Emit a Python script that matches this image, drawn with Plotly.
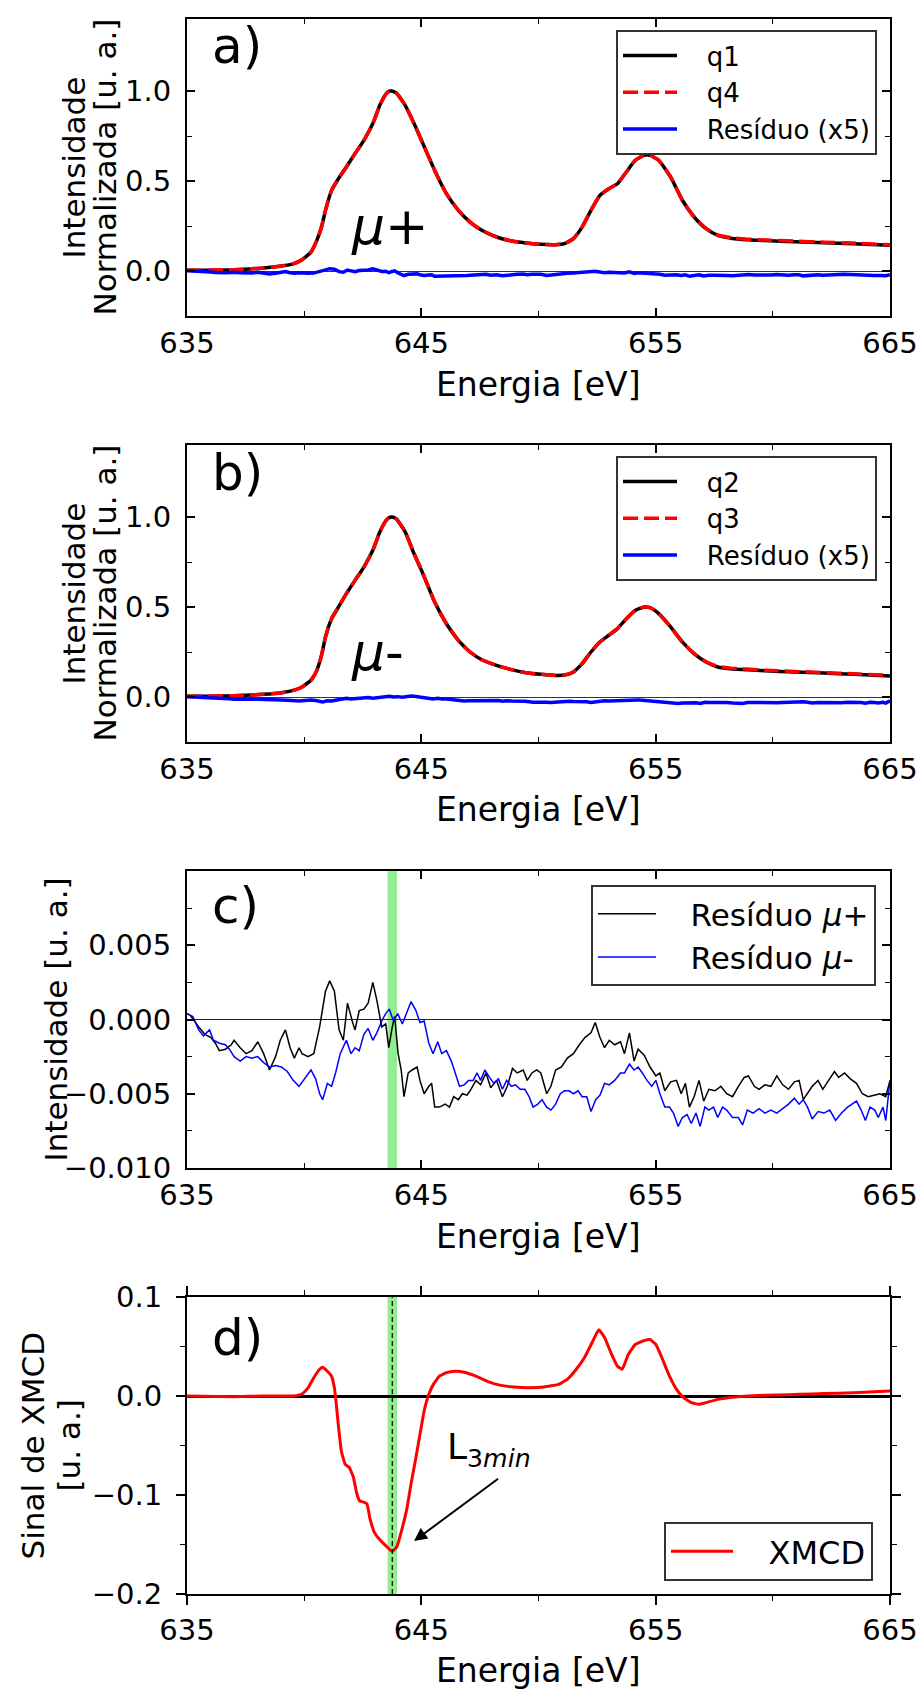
import plotly.graph_objects as go

# ------------------------------------------------------------------ data
# panels a) and b): normalised XAS spectra
energia_ab = [635.0, 637.01, 638.27, 639.03, 639.53, 639.91, 640.29, 640.54, 640.74, 640.91,
              641.17, 641.42, 641.80, 642.17, 642.55, 642.93, 643.26, 643.56, 643.73, 643.93,
              644.31, 644.69, 645.07, 645.57, 646.07, 646.58, 647.08, 647.58, 648.21, 648.84,
              649.47, 650.10, 650.73, 651.11, 651.49, 651.86, 652.24, 652.62, 653.0, 653.37,
              653.75, 654.13, 654.51, 654.76, 655.13, 655.64, 656.14, 656.64, 657.15, 657.65,
              658.28, 658.91, 659.66, 660.92, 662.18, 663.44, 665.0]
q1 = [0.004, 0.007, 0.017, 0.028, 0.04, 0.063, 0.105, 0.17, 0.244, 0.337,
      0.448, 0.504, 0.578, 0.652, 0.726, 0.819, 0.93, 0.994, 1.0, 0.989,
      0.92, 0.819, 0.707, 0.559, 0.43, 0.337, 0.272, 0.226, 0.189, 0.167,
      0.156, 0.148, 0.146, 0.152, 0.18, 0.244, 0.337, 0.42, 0.457, 0.485,
      0.55, 0.615, 0.643, 0.643, 0.615, 0.522, 0.393, 0.30, 0.235, 0.198,
      0.181, 0.174, 0.169, 0.163, 0.157, 0.152, 0.143]
q4 = [0.004, 0.007, 0.017, 0.028, 0.04, 0.063, 0.105, 0.17, 0.244, 0.337,
      0.448, 0.504, 0.578, 0.652, 0.726, 0.819, 0.93, 0.994, 1.0, 0.989,
      0.92, 0.819, 0.707, 0.559, 0.43, 0.337, 0.272, 0.226, 0.189, 0.167,
      0.156, 0.148, 0.146, 0.152, 0.18, 0.244, 0.337, 0.42, 0.457, 0.485,
      0.55, 0.615, 0.643, 0.643, 0.615, 0.522, 0.393, 0.30, 0.237, 0.200,
      0.184, 0.177, 0.172, 0.166, 0.160, 0.155, 0.146]
q2 = [0.004, 0.007, 0.015, 0.024, 0.037, 0.056, 0.093, 0.148, 0.231, 0.333,
      0.435, 0.49, 0.574, 0.648, 0.722, 0.815, 0.926, 0.99, 1.0, 0.99,
      0.917, 0.796, 0.685, 0.528, 0.407, 0.315, 0.25, 0.207, 0.176, 0.152,
      0.135, 0.126, 0.12, 0.122, 0.139, 0.185, 0.25, 0.306, 0.343, 0.38,
      0.435, 0.481, 0.5, 0.496, 0.463, 0.389, 0.306, 0.241, 0.194, 0.167,
      0.156, 0.152, 0.146, 0.139, 0.133, 0.126, 0.117]
q3 = [0.004, 0.007, 0.015, 0.024, 0.037, 0.056, 0.093, 0.148, 0.231, 0.333,
      0.435, 0.49, 0.574, 0.648, 0.722, 0.815, 0.926, 0.99, 1.0, 0.99,
      0.917, 0.796, 0.685, 0.528, 0.407, 0.315, 0.25, 0.207, 0.176, 0.152,
      0.135, 0.126, 0.12, 0.122, 0.139, 0.185, 0.25, 0.306, 0.343, 0.38,
      0.435, 0.481, 0.5, 0.496, 0.463, 0.389, 0.306, 0.241, 0.196, 0.170,
      0.159, 0.155, 0.149, 0.142, 0.136, 0.129, 0.120]

# panel c): residuals
energia_res_mais = [635.0, 635.13, 635.50, 635.76, 636.01, 636.21, 636.38, 636.64, 636.89, 637.01,
                    637.27, 637.52, 637.77, 638.02, 638.27, 638.52, 638.78, 638.98, 639.20, 639.40,
                    639.58, 639.78, 639.91, 640.16, 640.41, 640.66, 640.91, 641.09, 641.29, 641.49,
                    641.67, 641.85, 642.05, 642.17, 642.35, 642.55, 642.73, 642.93, 643.10, 643.31,
                    643.48, 643.61, 643.76, 643.86, 644.01, 644.14, 644.26, 644.44, 644.61, 644.82,
                    644.94, 645.12, 645.32, 645.44, 645.57, 645.77, 646.02, 646.20, 646.38, 646.58,
                    646.75, 646.95, 647.08, 647.33, 647.53, 647.76, 647.96, 648.21, 648.46, 648.67,
                    648.89, 649.09, 649.35, 649.52, 649.72, 649.92, 650.10, 650.35, 650.53, 650.73,
                    650.98, 651.23, 651.49, 651.74, 651.99, 652.24, 652.42, 652.62, 652.82, 653.02,
                    653.25, 653.50, 653.67, 653.88, 654.08, 654.25, 654.51, 654.76, 655.01, 655.18,
                    655.39, 655.64, 655.89, 656.09, 656.27, 656.44, 656.64, 656.85, 657.05, 657.27,
                    657.53, 657.78, 658.03, 658.28, 658.53, 658.78, 658.96, 659.21, 659.41, 659.66,
                    659.92, 660.17, 660.42, 660.67, 660.92, 661.12, 661.30, 661.48, 661.68, 661.93,
                    662.13, 662.38, 662.63, 662.81, 663.06, 663.31, 663.57, 663.82, 664.07, 664.32,
                    664.57, 664.82, 665.0]
residuo_mais = [0.0004, 0.0003, -0.0005, -0.0010, -0.0012, -0.0016, -0.0021, -0.0020, -0.0017, -0.0014,
                -0.0019, -0.0023, -0.0021, -0.0015, -0.0023, -0.0034, -0.0025, -0.0014, -0.0007, -0.0019,
                -0.0026, -0.0019, -0.0023, -0.0025, -0.0023, -0.0005, 0.0019, 0.0026, 0.0019, -0.0007,
                -0.0014, 0.0011, -0.0001, -0.0007, 0.0006, 0.0007, 0.0011, 0.0025, 0.0013, -0.0005,
                -0.0003, -0.0019, -0.0005, 0.0002, -0.0023, -0.0034, -0.0052, -0.0036, -0.0034, -0.0032,
                -0.0041, -0.0050, -0.0045, -0.0043, -0.0059, -0.0059, -0.0057, -0.0059, -0.0052, -0.0054,
                -0.0050, -0.0051, -0.0048, -0.0041, -0.0044, -0.0036, -0.0046, -0.0041, -0.0052, -0.0045,
                -0.0033, -0.0036, -0.0034, -0.0041, -0.0036, -0.0034, -0.0036, -0.0050, -0.0045, -0.0034,
                -0.0032, -0.0026, -0.0023, -0.0017, -0.0012, -0.0009, -0.0002, -0.0012, -0.0019, -0.0014,
                -0.0017, -0.0015, -0.0023, -0.0009, -0.0028, -0.0020, -0.0024, -0.0032, -0.0038, -0.0036,
                -0.0048, -0.0042, -0.0041, -0.0050, -0.0043, -0.0059, -0.0052, -0.0041, -0.0055, -0.0047,
                -0.0048, -0.0045, -0.0050, -0.0052, -0.0045, -0.0039, -0.0038, -0.0045, -0.0047, -0.0044,
                -0.0045, -0.0038, -0.0044, -0.0047, -0.0042, -0.0041, -0.0054, -0.0050, -0.0045, -0.0041,
                -0.0047, -0.0041, -0.0035, -0.0039, -0.0036, -0.0040, -0.0043, -0.0050, -0.0052, -0.0051,
                -0.0050, -0.0052, -0.0041]
energia_res_menos = [635.0, 635.25, 635.50, 635.70, 635.96, 636.13, 636.38, 636.64, 636.81, 637.01,
                     637.27, 637.52, 637.77, 638.02, 638.27, 638.52, 638.78, 639.03, 639.28, 639.53,
                     639.78, 640.03, 640.29, 640.49, 640.66, 640.79, 640.99, 641.17, 641.34, 641.54,
                     641.80, 642.00, 642.17, 642.35, 642.55, 642.73, 642.93, 643.10, 643.31, 643.48,
                     643.63, 643.81, 643.99, 644.19, 644.36, 644.56, 644.77, 644.94, 645.12, 645.32,
                     645.50, 645.70, 645.87, 646.07, 646.28, 646.45, 646.63, 646.83, 647.01, 647.21,
                     647.38, 647.53, 647.71, 647.91, 648.09, 648.29, 648.46, 648.64, 648.84, 649.02,
                     649.22, 649.42, 649.60, 649.77, 649.97, 650.15, 650.35, 650.53, 650.73, 650.93,
                     651.11, 651.31, 651.49, 651.69, 651.86, 652.06, 652.24, 652.44, 652.62, 652.82,
                     653.02, 653.25, 653.50, 653.67, 653.88, 654.08, 654.25, 654.43, 654.63, 654.83,
                     655.01, 655.18, 655.39, 655.59, 655.76, 655.96, 656.14, 656.34, 656.52, 656.72,
                     656.90, 657.10, 657.27, 657.47, 657.65, 657.85, 658.03, 658.28, 658.53, 658.71,
                     658.91, 659.16, 659.41, 659.66, 659.92, 660.17, 660.42, 660.67, 660.92, 661.12,
                     661.30, 661.48, 661.68, 661.93, 662.18, 662.43, 662.68, 662.93, 663.19, 663.39,
                     663.57, 663.77, 663.95, 664.15, 664.35, 664.50, 664.70, 664.82, 665.0]
residuo_menos = [0.0004, 0.0002, -0.0007, -0.0011, -0.0007, -0.0014, -0.0016, -0.0017, -0.0020, -0.0025,
                 -0.0028, -0.0025, -0.0026, -0.0025, -0.0029, -0.0032, -0.0031, -0.0032, -0.0035, -0.0041,
                 -0.0045, -0.0040, -0.0034, -0.0040, -0.0050, -0.0054, -0.0043, -0.0045, -0.0036, -0.0023,
                 -0.0014, -0.0023, -0.0019, -0.0021, -0.0010, -0.0006, -0.0014, -0.0009, -0.0001, 0.0004,
                 0.0007, -0.0001, 0.0004, -0.0003, 0.0004, 0.0012, 0.0006, -0.0002, -0.0001, -0.0016,
                 -0.0023, -0.0015, -0.0023, -0.0021, -0.0028, -0.0036, -0.0045, -0.0044, -0.0041, -0.0041,
                 -0.0036, -0.0041, -0.0034, -0.0039, -0.0043, -0.0040, -0.0047, -0.0041, -0.0045, -0.0044,
                 -0.0047, -0.0047, -0.0052, -0.0059, -0.0057, -0.0054, -0.0059, -0.0061, -0.0057, -0.0050,
                 -0.0048, -0.0048, -0.0050, -0.0048, -0.0052, -0.0052, -0.0062, -0.0054, -0.0051, -0.0043,
                 -0.0044, -0.0041, -0.0036, -0.0036, -0.0030, -0.0034, -0.0032, -0.0036, -0.0041, -0.0045,
                 -0.0041, -0.0050, -0.0059, -0.0059, -0.0063, -0.0072, -0.0066, -0.0064, -0.0070, -0.0063,
                 -0.0072, -0.0059, -0.0061, -0.0059, -0.0066, -0.0059, -0.0061, -0.0066, -0.0066, -0.0071,
                 -0.0061, -0.0063, -0.0060, -0.0063, -0.0061, -0.0063, -0.0060, -0.0057, -0.0053, -0.0057,
                 -0.0054, -0.0059, -0.0067, -0.0062, -0.0063, -0.0061, -0.0068, -0.0063, -0.0059, -0.0057,
                 -0.0055, -0.0061, -0.0068, -0.0059, -0.0061, -0.0066, -0.0059, -0.0068, -0.0041]

# panel d): XMCD signal
energia_xmcd = [635.0, 637.01, 638.27, 639.53, 639.91, 640.16, 640.41, 640.66, 640.79, 640.99,
                641.17, 641.29, 641.37, 641.47, 641.59, 641.75, 641.92, 642.10, 642.25, 642.37,
                642.50, 642.68, 642.80, 643.0, 643.26, 643.56, 643.76, 643.96, 644.19, 644.39,
                644.56, 644.77, 644.94, 645.12, 645.32, 645.52, 645.77, 646.07, 646.45, 646.83,
                647.33, 647.84, 648.34, 648.97, 649.60, 650.23, 650.86, 651.23, 651.61, 651.99,
                652.32, 652.57, 652.82, 653.12, 653.37, 653.57, 653.83, 654.13, 654.51, 654.76,
                655.01, 655.26, 655.59, 655.89, 656.19, 656.52, 656.85, 657.15, 657.65, 658.41,
                659.16, 660.17, 661.17, 662.18, 663.44, 665.0]
xmcd = [0.0, -0.0007, 0.0, 0.0, 0.002, 0.008, 0.0185, 0.027, 0.029, 0.025,
        0.020, 0.008, -0.008, -0.032, -0.056, -0.069, -0.072, -0.082, -0.099, -0.106,
        -0.107, -0.109, -0.123, -0.138, -0.146, -0.153, -0.157, -0.152, -0.133, -0.113,
        -0.089, -0.062, -0.039, -0.015, 0.0017, 0.012, 0.020, 0.0236, 0.025, 0.024,
        0.020, 0.0145, 0.011, 0.009, 0.0084, 0.009, 0.0118, 0.0168, 0.027, 0.040,
        0.0556, 0.067, 0.059, 0.042, 0.030, 0.027, 0.042, 0.052, 0.056, 0.057,
        0.052, 0.039, 0.020, 0.0067, -0.0017, -0.0067, -0.0084, -0.0067, -0.0034, -0.001,
        0.0003, 0.001, 0.0017, 0.0024, 0.0034, 0.005]

l3_min_energia = 643.76          # L3 minimum (marked position)
l3_faixa = [643.56, 643.96]      # highlighted band
seta_ponta = [644.69, -0.1465]   # arrow head (points at the minimum)
seta_base = [648.34, -0.0825]    # arrow tail, below the label
rotulo_l3 = [646.0, -0.054]      # label position (left, middle)
escala_residuo = 5               # residual shown x5 in a) and b)

x_ticks = [635, 645, 655, 665]
x_minor = [640, 650, 660]
y_ab_ticks = [0.0, 0.5, 1.0]
y_ab_text = ["0.0", "0.5", "1.0"]
y_ab_minor = [0.25, 0.75]
y_c_ticks = [-0.010, -0.005, 0.0, 0.005]
y_c_text = ["\u22120.010", "\u22120.005", "0.000", "0.005"]
y_c_minor = [-0.0075, -0.0025, 0.0025, 0.0075]
y_d_ticks = [-0.2, -0.1, 0.0, 0.1]
y_d_text = ["\u22120.2", "\u22120.1", "0.0", "0.1"]
y_d_minor = [-0.15, -0.05, 0.05]

res5_mais = [escala_residuo * v for v in residuo_mais]
res5_menos = [escala_residuo * v for v in residuo_menos]

# ------------------------------------------------------------------ layout helpers
FONT = "DejaVu Sans"
W, H = 919, 1689
NB = "\u00a0"


def fx(p):
    return p / W


def fy(p):
    return 1 - p / H


X_DOM = [fx(187), fx(890)]
PANEL = {1: (19, 316), 2: (445, 742), 3: (871, 1168), 4: (1297, 1594)}

fig = go.Figure()

# a)
fig.add_trace(go.Scatter(x=energia_ab, y=q1, name=NB * 3 + "q1", mode="lines", line=dict(color="black", width=3.5, shape="spline", smoothing=0.5), xaxis="x", yaxis="y", legend="legend"))
fig.add_trace(go.Scatter(x=energia_ab, y=q4, name=NB * 3 + "q4", mode="lines", line=dict(color="#ff0000", width=3.5, dash="15px,6px", shape="spline", smoothing=0.5), xaxis="x", yaxis="y", legend="legend"))
fig.add_trace(go.Scatter(x=energia_res_mais, y=res5_mais, name=NB * 3 + "Resíduo (x5)", mode="lines", line=dict(color="#0000ff", width=3.5), xaxis="x", yaxis="y", legend="legend"))
# b)
fig.add_trace(go.Scatter(x=energia_ab, y=q2, name=NB * 3 + "q2", mode="lines", line=dict(color="black", width=3.5, shape="spline", smoothing=0.5), xaxis="x2", yaxis="y2", legend="legend2"))
fig.add_trace(go.Scatter(x=energia_ab, y=q3, name=NB * 3 + "q3", mode="lines", line=dict(color="#ff0000", width=3.5, dash="15px,6px", shape="spline", smoothing=0.5), xaxis="x2", yaxis="y2", legend="legend2"))
fig.add_trace(go.Scatter(x=energia_res_menos, y=res5_menos, name=NB * 3 + "Resíduo (x5)", mode="lines", line=dict(color="#0000ff", width=3.5), xaxis="x2", yaxis="y2", legend="legend2"))
# c)
fig.add_trace(go.Scatter(x=energia_res_mais, y=residuo_mais, name=NB * 3 + "Resíduo <i>μ</i>+", mode="lines", line=dict(color="black", width=1.5), xaxis="x3", yaxis="y3", legend="legend3"))
fig.add_trace(go.Scatter(x=energia_res_menos, y=residuo_menos, name=NB * 3 + "Resíduo <i>μ</i>-", mode="lines", line=dict(color="#0000ff", width=1.5), xaxis="x3", yaxis="y3", legend="legend3"))
# d)
fig.add_trace(go.Scatter(x=energia_xmcd, y=xmcd, name=NB * 3 + "XMCD", mode="lines", line=dict(color="#ff0000", width=3, shape="spline", smoothing=0.35), xaxis="x4", yaxis="y4", legend="legend4"))


def xaxis_cfg(n, ticks="inside", tl=8):
    return dict(domain=X_DOM, anchor="y" if n == 1 else f"y{n}", range=[635, 665],
                tickmode="array", tickvals=x_ticks, ticktext=[str(t) for t in x_ticks],
                minor=dict(tickmode="array", tickvals=x_minor, ticks=ticks, ticklen=5, tickwidth=1.4, tickcolor="black"),
                showline=True, linecolor="black", linewidth=2, mirror="ticks",
                ticks=ticks, ticklen=tl, tickwidth=1.6, tickcolor="black",
                showgrid=False, zeroline=False, ticklabelstandoff=0, automargin=False,
                tickfont=dict(family=FONT, size=29, color="black"))


def yaxis_cfg(n, rng, tv, tt, minor, zc, zw, ticks="inside", tl=8):
    top, bot = PANEL[n]
    return dict(domain=[fy(bot), fy(top)], anchor="x" if n == 1 else f"x{n}", range=rng,
                tickmode="array", tickvals=tv, ticktext=tt,
                minor=dict(tickmode="array", tickvals=minor, ticks=ticks, ticklen=5, tickwidth=1.4, tickcolor="black"),
                showline=True, linecolor="black", linewidth=2, mirror="ticks",
                ticks=ticks, ticklen=tl, tickwidth=1.6, tickcolor="black",
                showgrid=False, zeroline=True, zerolinecolor=zc, zerolinewidth=zw,
                ticklabelstandoff=8, automargin=False,
                tickfont=dict(family=FONT, size=29, color="black"))


def legend_cfg(xright, ytop, size, iw):
    return dict(x=fx(xright), y=fy(ytop), xanchor="right", yanchor="top", xref="paper", yref="paper",
                font=dict(family=FONT, size=size, color="black"),
                bgcolor="rgba(255,255,255,0.8)", bordercolor="#333333", borderwidth=2,
                itemwidth=iw, tracegroupgap=0)


annotations = []


def add_text(text, xpx, ypx, size, angle=0, xanchor="center"):
    annotations.append(dict(text=text, x=fx(xpx), y=fy(ypx), xref="paper", yref="paper",
                            xanchor=xanchor, yanchor="middle", showarrow=False, textangle=angle,
                            font=dict(family=FONT, size=size, color="black")))


xc = (187 + 890) / 2
for n, (top, bot) in PANEL.items():
    add_text("Energia [eV]", xc, bot + (76 if n == 4 else 68), 33)

add_text("a)", 210, 46, 50, xanchor="left")
add_text("b)", 210, 473, 50, xanchor="left")
add_text("c)", 210, 906, 50, xanchor="left")
add_text("d)", 210, 1338, 50, xanchor="left")

add_text("Intensidade", 74, 167.5, 31, angle=-90)
add_text("Normalizada [u. a.]", 105, 167.5, 31, angle=-90)
add_text("Intensidade", 74, 593.5, 31, angle=-90)
add_text("Normalizada [u. a.]", 105, 593.5, 31, angle=-90)
add_text("Intensidade [u. a.]", 55, 1019.5, 31, angle=-90)
add_text("Sinal de XMCD", 32, 1445.5, 31, angle=-90)
add_text("[u. a.]", 68, 1445.5, 31, angle=-90)

annotations.append(dict(text="<i>μ</i>+", x=641.9, y=0.25, xref="x", yref="y", xanchor="left", yanchor="middle",
                        showarrow=False, font=dict(family=FONT, size=52, color="black")))
annotations.append(dict(text="<i>μ</i>-", x=641.9, y=0.25, xref="x2", yref="y2", xanchor="left", yanchor="middle",
                        showarrow=False, font=dict(family=FONT, size=52, color="black")))
annotations.append(dict(text="L<sub>3<i>min</i></sub>", x=rotulo_l3[0], y=rotulo_l3[1], xref="x4", yref="y4",
                        xanchor="left", yanchor="middle", showarrow=False,
                        font=dict(family=FONT, size=36, color="black")))
annotations.append(dict(text="", x=seta_ponta[0], y=seta_ponta[1],
                        ax=seta_base[0], ay=seta_base[1], xref="x4", yref="y4", axref="x4", ayref="y4",
                        showarrow=True, arrowhead=2, arrowsize=1.3,
                        arrowwidth=2, arrowcolor="black", standoff=0, startstandoff=0))

shapes = [
    dict(type="rect", xref="x3", yref="y3 domain", x0=l3_faixa[0], x1=l3_faixa[1], y0=0, y1=1,
         fillcolor="#90ee90", line=dict(width=0), layer="below"),
    dict(type="rect", xref="x4", yref="y4 domain", x0=l3_faixa[0], x1=l3_faixa[1], y0=0, y1=1,
         fillcolor="#90ee90", line=dict(width=0), layer="below"),
    dict(type="line", xref="x4", yref="y4 domain", x0=l3_min_energia, x1=l3_min_energia, y0=0, y1=1,
         line=dict(color="black", width=1.2, dash="5px,3px"), layer="above"),
]

fig.update_layout(
    width=W, height=H, margin=dict(l=0, r=0, t=0, b=0, pad=0, autoexpand=False),
    paper_bgcolor="white", plot_bgcolor="white",
    font=dict(family=FONT, color="black"),
    xaxis=xaxis_cfg(1), xaxis2=xaxis_cfg(2), xaxis3=xaxis_cfg(3), xaxis4=xaxis_cfg(4, ticks="outside", tl=9),
    yaxis=yaxis_cfg(1, [-0.25, 1.4], y_ab_ticks, y_ab_text, y_ab_minor, "#333333", 1.3),
    yaxis2=yaxis_cfg(2, [-0.25, 1.4], y_ab_ticks, y_ab_text, y_ab_minor, "#333333", 1.3),
    yaxis3=yaxis_cfg(3, [-0.010, 0.010], y_c_ticks, y_c_text, y_c_minor, "#222222", 1.3),
    yaxis4=yaxis_cfg(4, [-0.2, 0.1], y_d_ticks, y_d_text, y_d_minor, "black", 2.5, ticks="outside", tl=9),
    legend=legend_cfg(877, 30, 26, 54),
    legend2=legend_cfg(877, 456, 26, 54),
    legend3=legend_cfg(876, 885, 31, 58),
    legend4=legend_cfg(873, 1522, 32, 62),
    annotations=annotations,
    shapes=shapes,
)

fig.write_html("out.html", config={"displayModeBar": False},
               post_script="document.body.style.margin='0px';document.body.style.overflow='hidden';")
